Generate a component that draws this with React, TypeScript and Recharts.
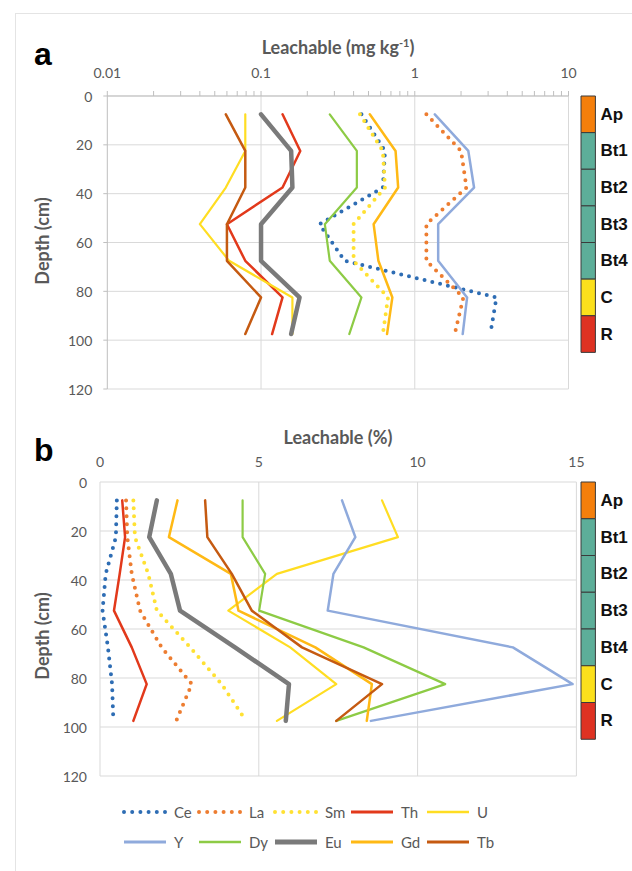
import {
  Bar,
  BarChart,
  CartesianGrid,
  LabelList,
  Line,
  LineChart,
  ReferenceLine,
  XAxis,
  YAxis,
} from 'recharts'

// sample depths (cm), mid-points of the horizons
const depths = [7.5, 22.5, 37.5, 52.5, 67.5, 82.5, 97.5]
const elements = ['Ce', 'La', 'Sm', 'Th', 'U', 'Y', 'Dy', 'Eu', 'Gd', 'Tb']

// panel a: leachable, mg kg-1
const ceA = [0.45, 0.64, 0.62, 0.24, 0.35, 3.4, 3.1]
const laA = [1.19, 2.0, 2.17, 1.19, 1.19, 2.07, 1.82]
const smA = [0.44, 0.62, 0.64, 0.4, 0.4, 0.67, 0.62]
const thA = [0.138, 0.18, 0.138, 0.06, 0.079, 0.138, 0.118]
const uA = [0.079, 0.079, 0.059, 0.04, 0.062, 0.16, 0.16]
const yA = [1.35, 2.23, 2.43, 1.42, 1.42, 2.19, 2.05]
const dyA = [0.28, 0.42, 0.42, 0.26, 0.28, 0.45, 0.375]
const euA = [0.1, 0.157, 0.16, 0.1, 0.1, 0.178, 0.157]
const gdA = [0.51, 0.75, 0.78, 0.54, 0.58, 0.715, 0.66]
const tbA = [0.059, 0.079, 0.079, 0.06, 0.06, 0.1, 0.079]

// panel b: leachable, %
const ceB = [0.53, 0.5, 0.18, 0.08, 0.25, 0.38, 0.42]
const laB = [0.82, 0.86, 1.0, 1.26, 1.94, 2.89, 2.4]
const smB = [1.05, 1.1, 1.52, 1.79, 2.84, 3.83, 4.6]
const thB = [0.7, 0.79, 0.62, 0.44, 1.0, 1.47, 1.05]
const uB = [8.88, 9.38, 5.57, 4.04, 5.99, 7.44, 5.57]
const yB = [7.62, 8.04, 7.35, 7.17, 13.0, 14.88, 8.53]
const dyB = [4.49, 4.49, 5.2, 5.01, 8.3, 10.87, 7.44]
const euB = [1.79, 1.55, 2.23, 2.52, 4.25, 5.95, 5.85]
const gdB = [2.44, 2.17, 4.12, 4.36, 6.78, 8.56, 8.4]
const tbB = [3.31, 3.38, 4.15, 4.78, 6.36, 8.88, 7.44]

const depthTicks = [0, 20, 40, 60, 80, 100, 120]
const logDecades = [0.01, 0.1, 1, 10]
const pctTicks = [0, 5, 10, 15]

const horizons = ['Ap', 'Bt1', 'Bt2', 'Bt3', 'Bt4', 'C', 'R']
const horizonThickness = [15, 15, 15, 15, 15, 15, 15]
const horizonColors = ['#F47F0C', '#5DAE99', '#5DAE99', '#5DAE99', '#5DAE99', '#FBE01C', '#DE3222']

const seriesA = [ceA, laA, smA, thA, uA, yA, dyA, euA, gdA, tbA]
const seriesB = [ceB, laB, smB, thB, uB, yB, dyB, euB, gdB, tbB]

const style: Record<string, { color: string; width: number; dotted?: boolean }> = {
  Ce: { color: '#2E6DB4', width: 4, dotted: true },
  La: { color: '#ED7D31', width: 4, dotted: true },
  Sm: { color: '#FFE133', width: 4, dotted: true },
  Th: { color: '#E2391B', width: 2.5 },
  U: { color: '#FFDD22', width: 2.2 },
  Y: { color: '#8FAADC', width: 2.5 },
  Dy: { color: '#8DCB45', width: 2.2 },
  Eu: { color: '#7A7A7A', width: 4.5 },
  Gd: { color: '#FFB915', width: 2.5 },
  Tb: { color: '#C55A11', width: 2.5 },
}

const FONT = 'Lato, "Open Sans", sans-serif'
const GREY = '#595959'
const GRID = '#d9d9d9'

const toRows = (series: number[][]) =>
  depths.map((depth, i) => {
    const row: Record<string, number> = { depth }
    elements.forEach((el, k) => {
      row[el] = series[k][i]
    })
    return row
  })

const rowsA = toRows(seriesA)
const rowsB = toRows(seriesB)

const logTicks = logDecades
  .slice(0, -1)
  .flatMap((d) => [1, 2, 3, 4, 5, 6, 7, 8, 9].map((m) => Number((d * m).toPrecision(2))))
  .concat([10])

const horizonRow: Record<string, number | string> = { name: 'profile' }
horizons.forEach((h, i) => {
  horizonRow[h] = horizonThickness[i]
})

function TopTick({ x, y, payload, labels }: any) {
  if (!labels.includes(payload.value)) return <g />
  return (
    <text x={x} y={y} textAnchor="middle" fill={GREY} fontSize={14} fontFamily={FONT}>
      {payload.value}
    </text>
  )
}

function DepthTick({ x, y, payload }: any) {
  return (
    <text x={x} y={y} textAnchor="end" dominantBaseline="central" fill={GREY} fontSize={14} fontFamily={FONT}>
      {payload.value}
    </text>
  )
}

function renderLines() {
  return elements.map((el) => {
    const s = style[el]
    return (
      <Line
        key={el}
        dataKey={el}
        type="linear"
        stroke={s.color}
        strokeWidth={s.width}
        strokeDasharray={s.dotted ? '0 8' : undefined}
        strokeLinecap="round"
        strokeLinejoin="round"
        dot={false}
        activeDot={false}
        isAnimationActive={false}
      />
    )
  })
}

function HorizonColumn({ top, height, marginTop, marginBottom }: { top: number; height: number; marginTop: number; marginBottom: number }) {
  return (
    <div style={{ position: 'absolute', left: 575, top }}>
      <BarChart
        width={57}
        height={height}
        data={[horizonRow]}
        margin={{ top: marginTop, bottom: marginBottom, left: 5, right: 36 }}
        barCategoryGap={0}
      >
        <XAxis dataKey="name" hide />
        <YAxis type="number" domain={[0, 120]} reversed hide />
        {horizons.map((h, i) => (
          <Bar
            key={h}
            dataKey={h}
            stackId="h"
            barSize={16}
            fill={horizonColors[i]}
            stroke="#3a3a3a"
            strokeWidth={1}
            isAnimationActive={false}
          >
            <LabelList
              dataKey={h}
              content={(p: any) => (
                <text
                  x={p.x + p.width + 5}
                  y={p.y + p.height / 2}
                  dominantBaseline="central"
                  fontFamily="Arial, 'Liberation Sans', sans-serif"
                  fontWeight={700}
                  fontSize={17}
                  fill="#111"
                >
                  {h}
                </text>
              )}
            />
          </Bar>
        ))}
      </BarChart>
    </div>
  )
}

const titleStyle = {
  position: 'absolute' as const,
  fontFamily: FONT,
  fontWeight: 700,
  fontSize: 18,
  color: GREY,
  whiteSpace: 'nowrap' as const,
}

const panelLabel = {
  position: 'absolute' as const,
  fontFamily: 'Arial, "Liberation Sans", sans-serif',
  fontWeight: 700,
  fontSize: 32,
  color: '#000',
  lineHeight: '32px',
}

function DepthTitle({ cy }: { cy: number }) {
  return (
    <div
      style={{
        ...titleStyle,
        left: 42,
        top: cy,
        transform: 'translate(-50%, -50%) rotate(-90deg)',
      }}
    >
      Depth (cm)
    </div>
  )
}

function LegendSymbol({ el }: { el: string }) {
  const s = style[el]
  return (
    <svg width={46} height={10} style={{ display: 'block' }}>
      <line
        x1={2}
        x2={44}
        y1={5}
        y2={5}
        stroke={s.color}
        strokeWidth={s.dotted ? 4 : s.width + 0.5}
        strokeDasharray={s.dotted ? '0 8.2' : undefined}
        strokeLinecap={s.dotted ? 'round' : 'butt'}
      />
    </svg>
  )
}

export default function App() {
  const legendCols = [122, 197, 273, 349, 425]
  const legendRows = [812, 842]
  return (
    <div
      style={{
        position: 'absolute',
        left: 0,
        top: 0,
        width: 632,
        height: 871,
        background: '#fff',
        overflow: 'hidden',
        fontFamily: FONT,
      }}
    >
      <div
        style={{
          position: 'absolute',
          left: 15,
          top: 13,
          width: 700,
          height: 900,
          border: '1px solid #e4e4e4',
        }}
      />

      {/* panel a */}
      <div style={{ ...panelLabel, left: 34, top: 38 }}>a</div>
      <div style={{ ...titleStyle, left: 338, top: 47, transform: 'translate(-50%, -50%)' }}>
        Leachable (mg kg<sup style={{ fontSize: 11 }}>-1</sup>)
      </div>
      <DepthTitle cy={241} />
      <div style={{ position: 'absolute', left: 0, top: 0 }}>
        <LineChart
          width={632}
          height={410}
          data={rowsA}
          layout="vertical"
          margin={{ top: 0, right: 63.5, bottom: 21, left: 0 }}
        >
          <CartesianGrid vertical={false} stroke={GRID} />
          <ReferenceLine x={0.1} stroke={GRID} />
          <ReferenceLine x={1} stroke={GRID} />
          <ReferenceLine x={10} stroke={GRID} />
          <XAxis
            type="number"
            scale="log"
            orientation="top"
            domain={[0.01, 10]}
            allowDataOverflow
            ticks={logTicks}
            interval={0}
            height={96}
            axisLine={{ stroke: '#bfbfbf' }}
            tickLine={{ stroke: '#bfbfbf' }}
            tickSize={5}
            tickMargin={13}
            tick={(p: any) => <TopTick {...p} labels={logDecades} />}
          />
          <YAxis
            type="number"
            dataKey="depth"
            domain={[0, 120]}
            ticks={depthTicks}
            interval={0}
            width={107.3}
            axisLine={{ stroke: '#bfbfbf' }}
            tickLine={{ stroke: '#bfbfbf' }}
            tickSize={4}
            tickMargin={11}
            tick={(p: any) => <DepthTick {...p} />}
          />
          {renderLines()}
        </LineChart>
      </div>
      <HorizonColumn top={0} height={410} marginTop={96} marginBottom={21} />

      {/* panel b */}
      <div style={{ ...panelLabel, left: 34, top: 434 }}>b</div>
      <div style={{ ...titleStyle, left: 338, top: 437, transform: 'translate(-50%, -50%)' }}>
        Leachable (%)
      </div>
      <DepthTitle cy={636} />
      <div style={{ position: 'absolute', left: 0, top: 400 }}>
        <LineChart
          width={632}
          height={400}
          data={rowsB}
          layout="vertical"
          margin={{ top: 0, right: 55.6, bottom: 24, left: 0 }}
        >
          <CartesianGrid vertical={false} stroke={GRID} />
          {pctTicks.map((t) => (
            <ReferenceLine key={t} x={t} stroke={GRID} />
          ))}
          <XAxis
            type="number"
            orientation="top"
            domain={[0, 15]}
            ticks={pctTicks}
            interval={0}
            height={82}
            axisLine={false}
            tickLine={false}
            tickSize={0}
            tickMargin={15}
            tick={(p: any) => <TopTick {...p} labels={pctTicks} />}
          />
          <YAxis
            type="number"
            dataKey="depth"
            domain={[0, 120]}
            ticks={depthTicks}
            interval={0}
            width={100}
            axisLine={false}
            tickLine={false}
            tickSize={0}
            tickMargin={13}
            tick={(p: any) => <DepthTick {...p} />}
          />
          {renderLines()}
        </LineChart>
      </div>
      <HorizonColumn top={400} height={400} marginTop={82} marginBottom={24} />

      {/* legend */}
      {elements.map((el, i) => (
        <div
          key={el}
          style={{
            position: 'absolute',
            left: legendCols[i % 5],
            top: legendRows[Math.floor(i / 5)] - 10,
            height: 20,
            display: 'flex',
            alignItems: 'center',
            gap: 6,
            fontSize: 15,
            color: GREY,
            fontFamily: FONT,
          }}
        >
          <LegendSymbol el={el} />
          <span>{el}</span>
        </div>
      ))}
    </div>
  )
}
